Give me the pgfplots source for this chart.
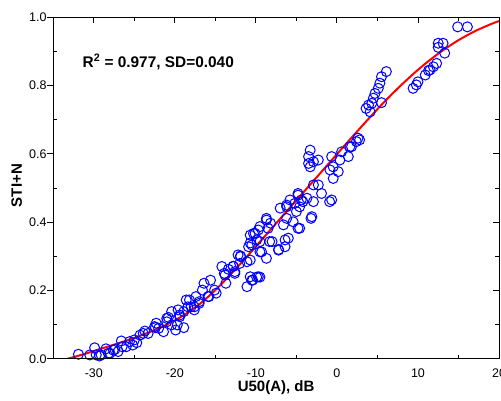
\documentclass[border=0pt]{standalone}
\usepackage{fontspec}
\setmainfont{Liberation Sans}
\usepackage{pgfplots}
\pgfplotsset{compat=1.18}
\definecolor{ptblue}{RGB}{0,0,255}
\definecolor{ptred}{RGB}{255,0,0}
\begin{document}
\begin{tikzpicture}
\path[use as bounding box] (-53.3pt,-41.3pt) rectangle (447.7pt,358.7pt);
\pgfplotsset{
  common/.style={
    scale only axis, width=445.7pt, height=341.4pt,
    xmin=-35, xmax=20, ymin=0, ymax=1,
    at={(0pt,0pt)}, anchor=south west,
    axis line style={line width=1pt, black},
    every tick/.style={black, line width=0.9pt},
  }
}
\begin{axis}[common,
  xtick={-30,-20,-10,0,10,20}, ytick={0,0.2,0.4,0.6,0.8,1.0},
  xticklabels={-30,-20,-10,0,10,20},
  yticklabels={0.0,0.2,0.4,0.6,0.8,1.0},
  minor x tick num=1, minor y tick num=1,
  tick align=inside, major tick length=6pt, minor tick length=3.7pt,
  xtick pos=right, xticklabel pos=left, ytick pos=right, yticklabel pos=left,
  tick label style={font=\fontsize{12.5}{14}\selectfont},
  xticklabel style={anchor=north, inner sep=0pt, yshift=-9.5pt},
  yticklabel style={anchor=east, inner sep=0pt, xshift=-6.6pt},
  xlabel={U50(A), dB}, ylabel={STI+N},
  every axis x label/.style={at={(axis description cs:0.5,-0.0858)}, anchor=center, font=\fontsize{15}{17}\selectfont\bfseries},
  every axis y label/.style={at={(axis description cs:-0.0821,0.507)}, rotate=90, anchor=center, font=\fontsize{15}{17}\selectfont\bfseries},
]
\addplot[only marks, mark=o, mark size=5pt, mark options={draw=ptblue, fill=none, line width=1pt}] coordinates {
(-31.9,0.013) (-30.5,0.011) (-29.9,0.032) (-29.3,0.008) (-28.5,0.029) (-27.6,0.025) (-28.0,0.016) (-26.6,0.052)
(-27.0,0.021) (-26.0,0.035) (-25.6,0.050) (-25.2,0.040) (-24.7,0.047) (-24.3,0.069) (-23.7,0.081) (-23.3,0.074)
(-22.4,0.091) (-22.0,0.089) (-21.4,0.079) (-20.8,0.121) (-21.0,0.108) (-20.4,0.099) (-19.9,0.084) (-19.7,0.099)
(-19.4,0.128) (-18.9,0.138) (-18.9,0.091) (-18.6,0.172) (-18.2,0.172) (-18.0,0.152) (-17.6,0.143) (-17.4,0.182)
(-17.0,0.167) (-16.6,0.201) (-16.4,0.221) (-15.9,0.182) (-15.6,0.230) (-15.1,0.201) (-14.9,0.192) (-14.2,0.270)
(-13.9,0.250) (-13.7,0.221) (-12.8,0.270) (-12.6,0.250) (-11.9,0.299) (-11.1,0.284) (-10.9,0.328) (-10.7,0.362)
(-29.1,0.011) (-29.7,0.011) (-28.2,0.016) (-27.4,0.027) (-26.5,0.035) (-23.9,0.074) (-25.0,0.055) (-22.5,0.094)
(-22.3,0.104) (-21.0,0.118) (-20.4,0.138) (-19.6,0.143) (-19.4,0.123) (-18.4,0.152) (-17.6,0.152) (-17.0,0.162)
(-15.8,0.182) (-13.8,0.245) (-12.2,0.304) (-12.0,0.279)
(-13.4,0.262) (-12.8,0.271) (-11.9,0.301) (-12.6,0.255) (-10.7,0.240) (-10.5,0.230) (-9.7,0.240) (-11.1,0.211)
(-10.4,0.230) (-9.9,0.239) (-9.5,0.239)
(-10.7,0.289) (-10.5,0.333) (-10.1,0.367) (-9.7,0.377) (-9.5,0.343) (-9.3,0.313) (-8.7,0.294) (-8.7,0.406)
(-8.2,0.397) (-8.0,0.343) (-7.2,0.318) (-7.0,0.441) (-6.4,0.348) (-6.2,0.450) (-5.8,0.465) (-5.4,0.401)
(-5.0,0.431) (-4.8,0.479) (-4.6,0.382) (-4.6,0.445) (-4.2,0.460)
(-8.7,0.411) (-9.5,0.387) (-10.3,0.367) (-10.7,0.339) (-9.9,0.348) (-8.5,0.382) (-6.6,0.392) (-6.2,0.411)
(-3.2,0.411) (-0.9,0.460) (-6.0,0.353) (-6.4,0.328) (-7.2,0.320) (-9.5,0.313) (-8.3,0.343) (-4.8,0.382) (-2.9,0.460)
(-3.3,0.611) (-3.5,0.592) (-3.5,0.572) (-3.3,0.562) (-2.3,0.582) (-2.9,0.577) (-0.65,0.592) (-0.46,0.562)
(-0.86,0.553) (-0.46,0.528) (0.16,0.548) (0.37,0.582) (0.58,0.606) (1.4,0.592) (1.6,0.621) (2.4,0.636)
(2.6,0.646) (-2.9,0.509) (-2.3,0.509) (-1.9,0.484) (-0.65,0.465) (-4.8,0.484) (-4.4,0.465) (-3.7,0.470)
(-3.1,0.416) (-6.2,0.445) (-5.2,0.455)
(6.1,0.841) (5.5,0.826) (5.3,0.807) (5.1,0.792) (4.7,0.777) (4.5,0.763) (4.3,0.748) (3.9,0.743)
(3.6,0.733) (4.1,0.723) (5.5,0.750) (9.4,0.792) (9.8,0.802) (10.0,0.811) (10.9,0.831) (11.3,0.844)
(2.8,0.641) (1.8,0.621)
(14.9,0.972) (16.1,0.972) (12.5,0.924) (13.1,0.924) (12.5,0.912) (13.3,0.895) (12.3,0.865) (11.9,0.855)
(11.5,0.846)
};
\addplot[ptred, line width=2pt, smooth] coordinates {
(-33.2,0) (-32,0.008) (-31,0.015) (-29,0.030) (-27,0.045) (-25,0.061) (-23,0.079) (-21,0.100)
(-19,0.126) (-17,0.159) (-15,0.201) (-13,0.250) (-11,0.302) (-9,0.356) (-7,0.410) (-5,0.464)
(-3,0.518) (-1,0.572) (1,0.626) (3,0.679) (5,0.731) (7,0.780) (9,0.825) (11,0.866)
(13,0.902) (15,0.933) (17,0.959) (19,0.980) (20,0.989)
};
\node[anchor=west, inner sep=0pt, font=\fontsize{15.4}{17}\selectfont\bfseries] at (axis cs:-31.4,0.869) {R\textsuperscript{2} = 0.977, SD=0.040};
\end{axis}
\begin{axis}[common,
  xtick={-25,-15,-5,5,15}, ytick={0.1,0.3,0.5,0.7,0.9},
  xticklabels={}, yticklabels={},
  xtick pos=left, ytick pos=left,
  tick align=inside, major tick length=3.7pt,
]
\end{axis}
\begin{axis}[common,
  xtick=\empty, ytick={0,0.2,0.4,0.6,0.8,1.0}, yticklabels={},
  ytick pos=left, tick align=outside, major tick length=6.7pt,
]
\end{axis}
\end{tikzpicture}
\end{document}
